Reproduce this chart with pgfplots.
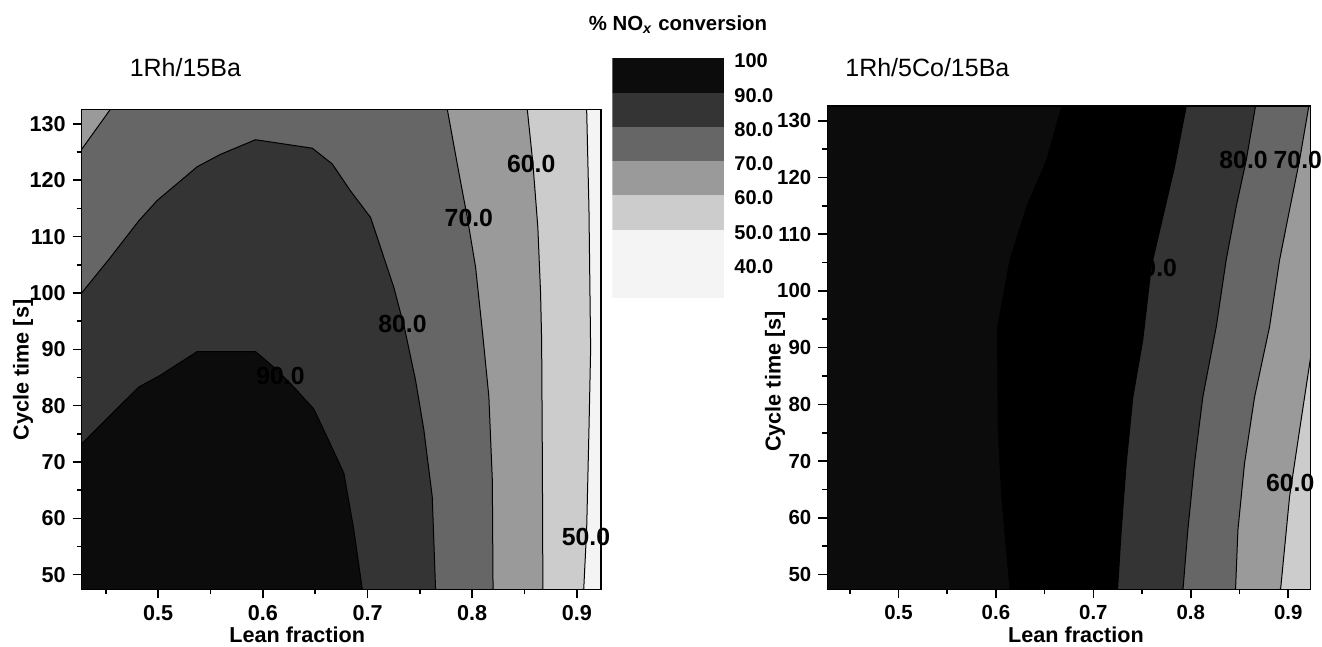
\documentclass[border=0pt]{standalone}
\usepackage{fontspec}
\setmainfont{Liberation Sans}
\usepackage{pgfplots}
\pgfplotsset{compat=1.18}

% grey levels of the NOx conversion bands
\definecolor{lev100}{HTML}{000000}
\definecolor{lev90}{HTML}{0C0C0C}
\definecolor{lev80}{HTML}{343434}
\definecolor{lev70}{HTML}{666666}
\definecolor{lev60}{HTML}{9A9A9A}
\definecolor{lev50}{HTML}{CCCCCC}
\definecolor{lev40}{HTML}{F4F4F4}

\newcommand{\tickfont}{\bfseries\fontsize{10.8}{12}\selectfont}
\newcommand{\clabfont}{\bfseries\fontsize{12.4}{14}\selectfont}

\pgfplotsset{
  contourpanel/.style={
    scale only axis, axis on top, clip mode=individual,
    xmin=0.427, xmax=0.923, ymin=47.4, ymax=132.6,
    xtick={0.5,0.6,0.7,0.8,0.9}, xticklabels={0.5,0.6,0.7,0.8,0.9},
    minor xtick={0.45,0.55,0.65,0.75,0.85},
    ytick={50,60,...,130}, yticklabels={50,60,70,80,90,100,110,120,130},
    minor ytick={55,65,...,125},
    tick align=outside, tick pos=left,
    major tick length=4.5pt, minor tick length=2.5pt,
    every tick/.append style={black, line width=0.8pt},
    axis line style={line width=0.6pt},
    tick label style={font=\tickfont},
    xlabel={Lean fraction}, ylabel={Cycle time [s]},
  },
  band/.style={fill=#1, draw=black, line width=0.5pt},
}

\begin{document}
\begin{tikzpicture}
\useasboundingbox (0,0) rectangle (661pt,-323.5pt);

% ---------------- 1Rh/15Ba ----------------
\begin{axis}[contourpanel,
  at={(40.85pt,-54.65pt)}, anchor=north west,
  width=259.65pt, height=240pt,
  title={1Rh/15Ba},
  every axis title/.style={at={(axis description cs:0.079,1)}, anchor=west,
    yshift=20.65pt, font=\fontsize{12.5}{14}\selectfont},
  every axis x label/.style={at={(axis description cs:0.415,0)}, anchor=center,
    yshift=-22.85pt, font=\tickfont},
  every axis y label/.style={at={(axis description cs:-0.113,0.457)}, rotate=90,
    anchor=center, font=\tickfont},
]
\addplot[fill=lev40, draw=none] coordinates {(0.40,40) (0.95,40) (0.95,140) (0.40,140)} -- cycle;
\addplot[band=lev50] coordinates {(0.40,40) (0.9065,47.4) (0.9093,58) (0.9115,75.7) (0.9131,90)
  (0.9115,115) (0.9093,132.6) (0.40,140)} -- cycle;
\addplot[band=lev60] coordinates {(0.40,40) (0.8675,47.4) (0.8670,70) (0.8663,91.6) (0.8653,99.9)
  (0.8627,111.6) (0.8580,122.9) (0.8526,132.6) (0.40,140)} -- cycle;
\addplot[band=lev70] coordinates {(0.40,40) (0.8199,47.4) (0.8192,66.8) (0.8159,81.6) (0.8101,92.5)
  (0.8032,104.6) (0.7953,113.4) (0.7857,122.9) (0.7762,132.6) (0.77,140) (0.46,140)
  (0.4544,132.6) (0.4270,125.5) (0.40,120)} -- cycle;
\addplot[band=lev80] coordinates {(0.40,40) (0.7650,47.4) (0.7618,63.9) (0.7538,75.7) (0.7459,84.5)
  (0.7353,93.8) (0.7251,101.0) (0.7124,108.1) (0.7029,113.4) (0.6838,118.1) (0.6663,122.9)
  (0.6472,125.7) (0.5930,127.2) (0.5595,124.6) (0.5373,122.4) (0.4990,116.4) (0.4815,112.8)
  (0.4544,106.3) (0.4270,100.0) (0.40,95)} -- cycle;
\addplot[band=lev90] coordinates {(0.40,40) (0.6950,47.4) (0.6869,58.0) (0.6774,68.0) (0.6627,73.9)
  (0.6487,79.4) (0.6296,83.3) (0.6137,86.3) (0.5930,89.6) (0.5373,89.6) (0.5022,85.4)
  (0.4815,83.3) (0.4576,78.9) (0.4270,73.2) (0.40,70)} -- cycle;
\node[font=\clabfont] at (axis cs:0.8563,122.9) {60.0};
\node[font=\clabfont] at (axis cs:0.7968,113.4) {70.0};
\node[font=\clabfont] at (axis cs:0.7334,94.5) {80.0};
\node[font=\clabfont] at (axis cs:0.6169,85.2) {90.0};
\node[font=\clabfont] at (axis cs:0.9086,56.7) {50.0};
\end{axis}

% ---------------- scale ----------------
\begin{axis}[
  at={(306.15pt,-29.15pt)}, anchor=north west,
  scale only axis, width=56pt, height=120pt,
  xmin=0, xmax=1, ymin=30, ymax=100,
  axis line style={draw=none},
  xtick=\empty,
  ytick={40,50,60,70,80,90,100},
  yticklabels={40.0,50.0,60.0,70.0,80.0,90.0,100},
  yticklabel pos=right, major tick length=0pt,
  yticklabel style={font=\bfseries\fontsize{10}{12}\selectfont, anchor=west,
    inner xsep=0pt, xshift=4.85pt, yshift=-1.3pt},
  title={\% NO\textsubscript{\textit{x}} conversion},
  every axis title/.style={at={(axis description cs:0.5,1)}, anchor=center,
    yshift=16.65pt, xshift=4.85pt, font=\bfseries\fontsize{10.2}{12}\selectfont},
]
\addplot[fill=lev90, draw=none] coordinates {(0,90) (1,90) (1,100) (0,100)} -- cycle;
\addplot[fill=lev80, draw=none] coordinates {(0,80) (1,80) (1,90) (0,90)} -- cycle;
\addplot[fill=lev70, draw=none] coordinates {(0,70) (1,70) (1,80) (0,80)} -- cycle;
\addplot[fill=lev60, draw=none] coordinates {(0,60) (1,60) (1,70) (0,70)} -- cycle;
\addplot[fill=lev50, draw=none] coordinates {(0,50) (1,50) (1,60) (0,60)} -- cycle;
\addplot[fill=lev40, draw=none] coordinates {(0,30) (1,30) (1,50) (0,50)} -- cycle;
\end{axis}

% ---------------- 1Rh/5Co/15Ba ----------------
\begin{axis}[contourpanel,
  at={(413.65pt,-53pt)}, anchor=north west,
  width=241.7pt, height=241.65pt,
  tick label style={font=\bfseries\fontsize{10.2}{12}\selectfont},
  title={1Rh/5Co/15Ba},
  every axis title/.style={at={(axis description cs:0.0228,1)}, anchor=west,
    yshift=19pt, font=\fontsize{12.5}{14}\selectfont},
  every axis x label/.style={at={(axis description cs:0.5145,0)}, anchor=center,
    yshift=-22.85pt, font=\tickfont},
  every axis y label/.style={at={(axis description cs:-0.108,0.43)}, rotate=90,
    anchor=center, font=\tickfont},
]
\addplot[fill=lev50, draw=none] coordinates {(0.40,40) (0.95,40) (0.95,140) (0.40,140)} -- cycle;
\addplot[band=lev60] coordinates {(0.40,40) (0.8921,47.4) (0.9013,63.7) (0.9116,75.5) (0.923,88.4)
  (0.95,95) (0.95,140) (0.40,140)} -- cycle;
\addplot[band=lev70] coordinates {(0.40,40) (0.8459,47.4) (0.8483,57.8) (0.8551,69.6) (0.8654,81.3)
  (0.8808,93.7) (0.8911,105.5) (0.9013,114.3) (0.9116,123.1) (0.9211,132.6) (0.92,140)
  (0.40,140)} -- cycle;
\addplot[band=lev80] coordinates {(0.40,40) (0.7920,47.4) (0.7969,57.8) (0.8038,69.6) (0.8123,81.3)
  (0.8261,93.7) (0.8363,105.5) (0.8466,114.9) (0.8569,123.1) (0.8664,132.6) (0.86,140)
  (0.40,140)} -- cycle;
\addplot[band=lev100] coordinates {(0.40,40) (0.7248,47.4) (0.7286,57.8) (0.7337,69.6) (0.7405,81.3)
  (0.7507,91.4) (0.7594,104.3) (0.7713,113.1) (0.7833,121.9) (0.7953,132.6) (0.79,140)
  (0.40,140)} -- cycle;
\addplot[fill=lev90, draw=none] coordinates {(0.40,40) (0.6139,47.4) (0.6054,63.7) (0.6019,75.5)
  (0.6011,93.5) (0.6139,105.5) (0.6311,114.9) (0.6516,123.1) (0.6670,132.6) (0.66,140)
  (0.40,140)} -- cycle;
\node[font=\clabfont] at (axis cs:0.8541,123.0) {80.0};
\node[font=\clabfont] at (axis cs:0.9098,123.0) {70.0};
\node[font=\clabfont] at (axis cs:0.9020,66.2) {60.0};
\node[font=\clabfont] at (axis cs:0.7610,104.0) {90.0};
\end{axis}
\end{tikzpicture}
\end{document}
